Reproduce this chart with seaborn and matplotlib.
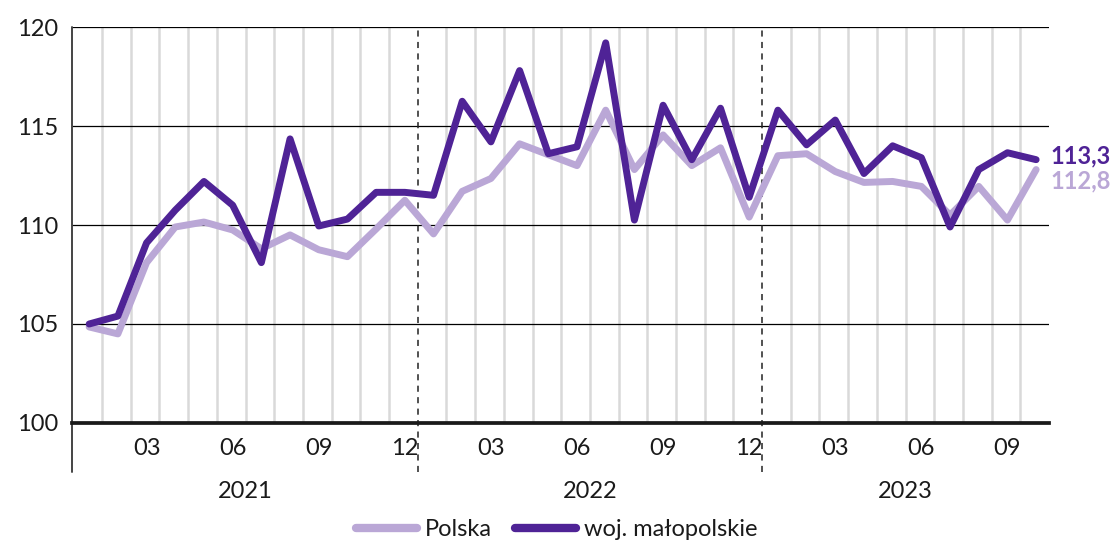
import matplotlib
matplotlib.use("Agg")
import matplotlib.pyplot as plt
import matplotlib.transforms as mtransforms
import seaborn as sns
import pandas as pd
import numpy as np

# ---- data ----
months = ["01", "02", "03", "04", "05", "06", "07", "08", "09", "10", "11", "12"] * 2 + \
         ["01", "02", "03", "04", "05", "06", "07", "08", "09", "10"]
years = ["2021", "2022", "2023"]
year_lengths = [12, 12, 10]
polska = [104.85, 104.5, 108.1, 109.9, 110.15, 109.75, 108.8, 109.5, 108.75, 108.4, 109.8, 111.25,
          109.55, 111.7, 112.35, 114.1, 113.55, 113.0, 115.8, 112.8, 114.55, 113.0, 113.9, 110.4,
          113.5, 113.6, 112.7, 112.15, 112.2, 111.95, 110.5, 111.95, 110.25, 112.8]
malopolskie = [105.0, 105.4, 109.1, 110.75, 112.2, 111.0, 108.1, 114.35, 109.95, 110.3, 111.65, 111.65,
               111.5, 116.25, 114.2, 117.8, 113.6, 113.95, 119.2, 110.25, 116.05, 113.3, 115.9, 111.4,
               115.8, 114.05, 115.3, 112.6, 114.0, 113.4, 109.9, 112.8, 113.65, 113.3]
series_names = ["Polska", "woj. małopolskie"]
end_labels = ["112,8", "113,3"]
yticks = [100, 105, 110, 115, 120]
month_tick_labels = ["03", "06", "09", "12"]

LIGHT = "#baa7d6"
DARK = "#4f2396"

sns.set_style("white")
plt.rcParams["font.family"] = ["Lato", "DejaVu Sans"]

n = len(polska)
idx = np.arange(n)
df = pd.DataFrame({
    "i": np.concatenate([idx, idx]),
    "value": polska + malopolskie,
    "series": [series_names[0]] * n + [series_names[1]] * n,
})

fig = plt.figure(figsize=(11.14, 5.46), dpi=100)
ax = fig.add_axes([0.0646, 0.2253, 0.9417 - 0.0646, 0.9505 - 0.2253])

sns.lineplot(data=df, x="i", y="value", hue="series", hue_order=series_names,
             palette=[LIGHT, DARK], linewidth=5, ax=ax, legend=True, zorder=5)
for ln in ax.get_lines():
    ln.set_solid_joinstyle("round")
    ln.set_solid_capstyle("round")

ax.set_xlim(-0.6, 33.45)
ax.set_ylim(100, 120)

# vertical month boundaries
starts = np.cumsum([0] + year_lengths)[:-1]
year_bounds = [s - 0.55 for s in starts[1:]]
bounds = [i + 0.45 for i in range(n - 1)]
gray_bounds = [b for b in bounds if all(abs(b - yb) > 1e-6 for yb in year_bounds)]
ax.vlines(gray_bounds, 100, 120, colors="#d9d9d9", linewidth=1.8, zorder=1)

# horizontal grid
for yv in yticks[1:]:
    ax.axhline(yv, color="black", linewidth=0.9, zorder=2)

trans = mtransforms.blended_transform_factory(ax.transData, ax.transAxes)
for yb in year_bounds:
    ax.plot([yb, yb], [-0.124, 1.0], transform=trans, color="#222222", linewidth=1.1,
            linestyle=(0, (4, 3.5)), clip_on=False, zorder=3)

# spines
for s in ["top", "right", "left"]:
    ax.spines[s].set_visible(False)
ax.spines["bottom"].set_color("#1a1a1a")
ax.spines["bottom"].set_linewidth(2.7)
ax.spines["bottom"].set_zorder(6)
ax.plot([0, 0], [-0.124, 1.0], transform=ax.transAxes, color="#444444", linewidth=1.4,
        clip_on=False, zorder=6)

# ticks
ax.set_yticks(yticks)
ax.set_yticklabels([str(v) for v in yticks])
tick_pos = [i for i in range(n) if months[i] in month_tick_labels]
ax.set_xticks(tick_pos)
ax.set_xticklabels([months[i] for i in tick_pos])
ax.tick_params(axis="both", length=0, labelsize=17, colors="#1a1a1a")
ax.tick_params(axis="x", pad=11)
ax.tick_params(axis="y", pad=10)
ax.set_xlabel("")
ax.set_ylabel("")

# year labels
for y, s, L in zip(years, starts, year_lengths):
    ax.text(s - 0.55 + L / 2, -0.172, y, transform=trans, ha="center", va="center",
            fontsize=17, color="#1a1a1a")

# end labels
ax.text(n - 1 + 0.5, malopolskie[-1] + 0.2, end_labels[1], color=DARK, fontsize=17,
        fontweight="bold", ha="left", va="center", clip_on=False)
ax.text(n - 1 + 0.5, polska[-1] - 0.55, end_labels[0], color=LIGHT, fontsize=17,
        fontweight="bold", ha="left", va="center", clip_on=False)

# legend
handles, labels = ax.get_legend_handles_labels()
ax.get_legend().remove()
leg = fig.legend(handles, labels, loc="center", bbox_to_anchor=(0.4996, 0.03), ncol=2,
                 frameon=False, fontsize=17, handlelength=2.6, handletextpad=0.3,
                 columnspacing=1.0)
for h in leg.legend_handles:
    h.set_linewidth(6)
    h.set_solid_capstyle("round")
for t in leg.get_texts():
    t.set_color("#1a1a1a")

fig.savefig("out.png", dpi=100)
